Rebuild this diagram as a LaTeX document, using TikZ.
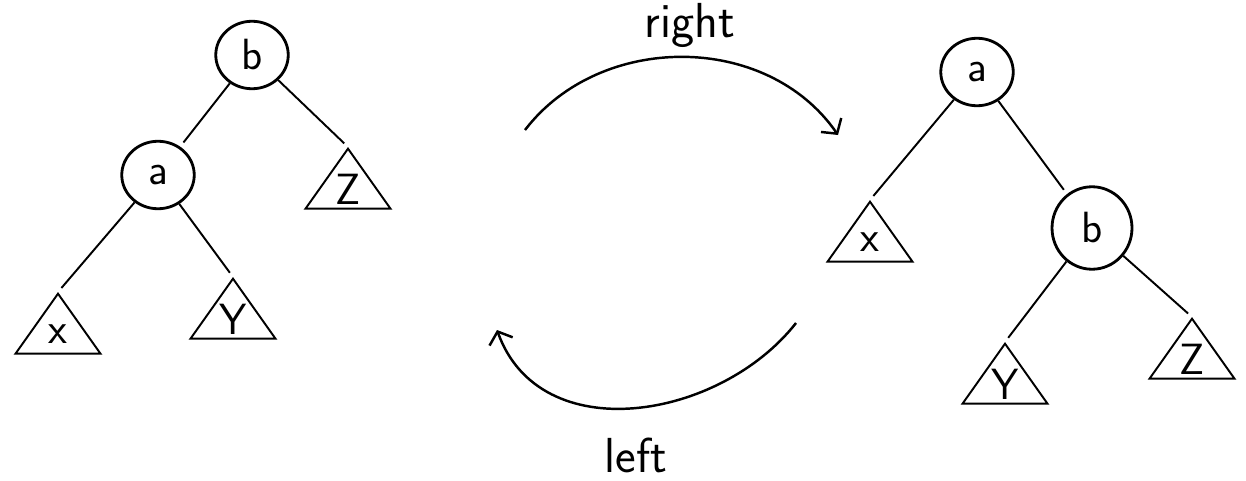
\documentclass[tikz,border=0pt]{standalone}
\usepackage{tikz}
\usetikzlibrary{arrows.meta, shapes.geometric, positioning}

\begin{document}
\begin{tikzpicture}[
  x=0.02cm, y=-0.02cm,
  nodo/.style={
    ellipse, draw, line width=1.6pt,
    minimum width=1.45cm, minimum height=1.35cm,
    inner sep=0pt, font=\sffamily\Huge
  },
  subarbol/.style={
    isosceles triangle, isosceles triangle apex angle=70,
    isosceles triangle stretches, shape border rotate=90,
    draw, line width=1.1pt, minimum width=1.7cm, minimum height=1.2cm,
    inner sep=0pt, anchor=apex, font=\sffamily\Huge
  },
  arista/.style={line width=1.1pt, shorten >=3pt},
  flecha/.style={-{Straight Barb[length=6pt, width=14pt]}, line width=1.4pt},
  etq/.style={font=\sffamily\fontsize{28}{32}\selectfont}
]
\useasboundingbox (0,0) rectangle (1246,480);

%% ─────────────────────────────────────────────
%% ARBOL IZQUIERDO
%% ─────────────────────────────────────────────
\node[nodo]     (B1) at (252, 55)  {b};
\node[nodo]     (A1) at (158, 175) {a};
\node[subarbol] (X1) at (58, 292)  {x};
\node[subarbol] (Y1) at (233, 277) {Y};
\node[subarbol] (Z1) at (348, 147) {Z};

\draw[arista] (B1) -- (A1);
\draw[arista] (B1) -- (Z1.apex);
\draw[arista] (A1) -- (X1.apex);
\draw[arista] (A1) -- (Y1.apex);

%% ─────────────────────────────────────────────
%% ARBOL DERECHO
%% ─────────────────────────────────────────────
\node[nodo]     (A2) at (977, 72)   {a};
\node[nodo, minimum width=1.6cm, minimum height=1.65cm]
                (B2) at (1092, 228) {b};
\node[subarbol] (X2) at (870, 200)  {x};
\node[subarbol] (Y2) at (1005, 342) {Y};
\node[subarbol] (Z2) at (1192, 317) {Z};

\draw[arista] (A2) -- (X2.apex);
\draw[arista] (A2) -- (B2);
\draw[arista] (B2) -- (Y2.apex);
\draw[arista] (B2) -- (Z2.apex);

%% ─────────────────────────────────────────────
%% ROTACIONES
%% ─────────────────────────────────────────────
\coordinate (R0) at (525, 130);
\coordinate (R1) at (838, 135);
\coordinate (L0) at (796, 323);
\coordinate (L1) at (497, 330);

\draw[flecha] (R0) .. controls (600, 32) and (767, 32) .. (R1);
\node[etq] (RT) at (690, 25) {right};

\draw[flecha] (L0) .. controls (720, 420) and (540, 450) .. (L1);
\node[etq] (LT) at (636, 455) {left};

\end{tikzpicture}
\end{document}
